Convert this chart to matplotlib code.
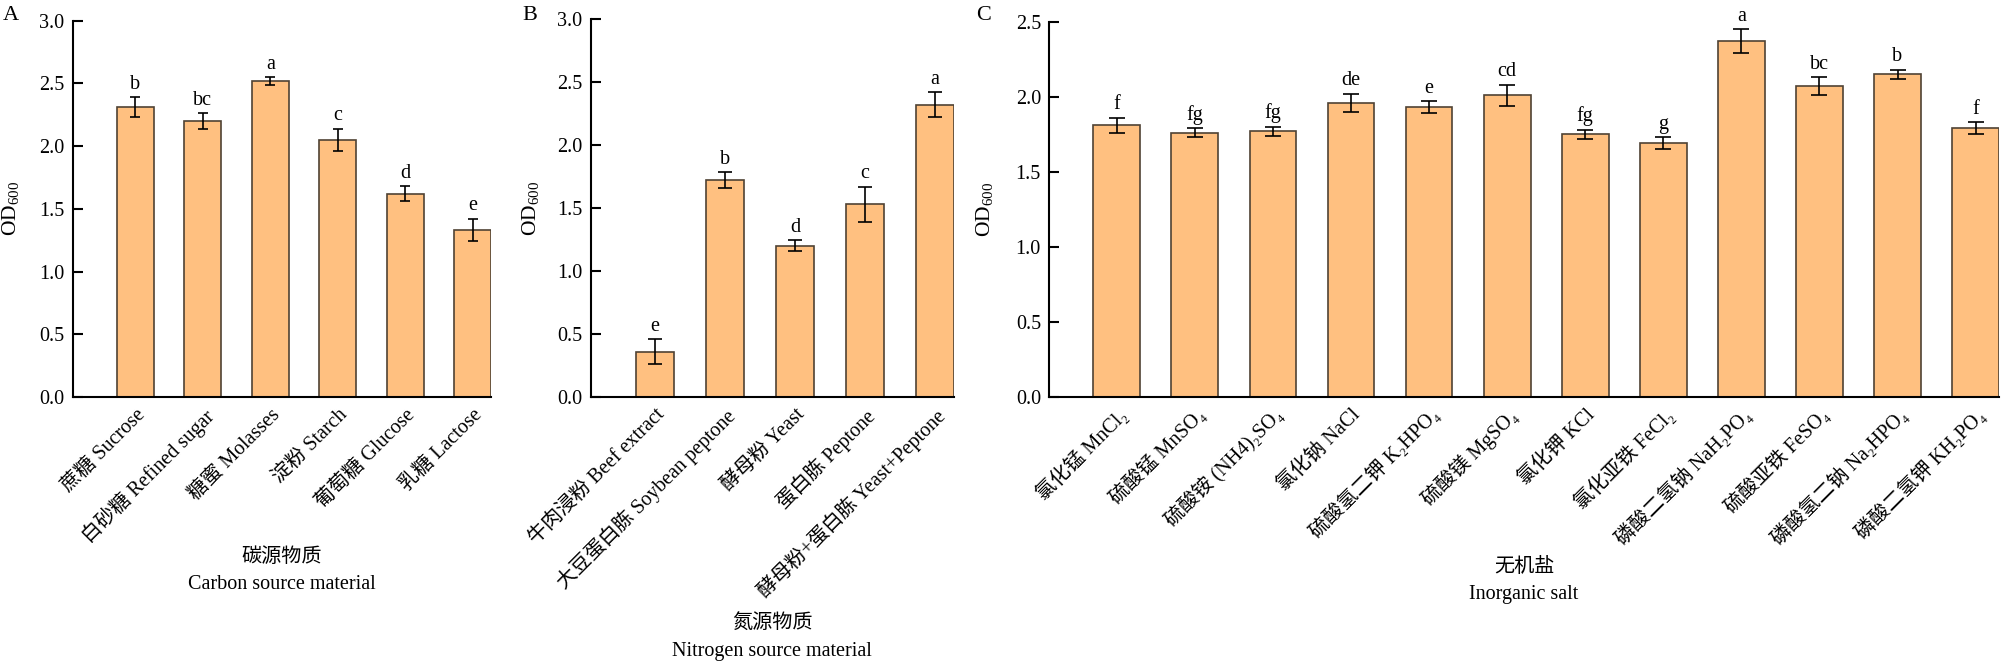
import matplotlib
matplotlib.use("Agg")
import matplotlib.pyplot as plt
from matplotlib.ticker import MultipleLocator, FormatStrFormatter

plt.rcParams['font.family'] = ['Liberation Serif', 'Noto Sans CJK SC', 'DejaVu Serif']
plt.rcParams['mathtext.fontset'] = 'custom'
plt.rcParams['mathtext.rm'] = 'Liberation Serif'

# A: carbon source
carbon_labels = ['蔗糖 Sucrose', '白砂糖 Refined sugar', '糖蜜 Molasses',
                 '淀粉 Starch', '葡萄糖 Glucose', '乳糖 Lactose']
carbon_mean = [2.31, 2.20, 2.52, 2.05, 1.62, 1.33]
carbon_err = [0.08, 0.06, 0.03, 0.09, 0.06, 0.09]
carbon_sig = ['b', 'bc', 'a', 'c', 'd', 'e']

# B: nitrogen source
nitrogen_labels = ['牛肉浸粉 Beef extract', '大豆蛋白胨 Soybean peptone', '酵母粉 Yeast',
                   '蛋白胨 Peptone', '酵母粉+蛋白胨 Yeast+Peptone']
nitrogen_mean = [0.36, 1.72, 1.20, 1.53, 2.32]
nitrogen_err = [0.10, 0.065, 0.045, 0.14, 0.10]
nitrogen_sig = ['e', 'b', 'd', 'c', 'a']

# C: inorganic salt
salt_labels = ['氯化锰 MnCl₂', '硫酸锰 MnSO₄', '硫酸铵 (NH4)₂SO₄', '氯化钠 NaCl',
               '硫酸氢二钾 K₂HPO₄', '硫酸镁 MgSO₄', '氯化钾 KCl', '氯化亚铁 FeCl₂',
               '磷酸二氢钠 NaH₂PO₄', '硫酸亚铁 FeSO₄', '磷酸氢二钠 Na₂HPO₄', '磷酸二氢钾 KH₂PO₄']
salt_mean = [1.81, 1.76, 1.77, 1.96, 1.93, 2.01, 1.75, 1.69, 2.37, 2.07, 2.15, 1.79]
salt_err = [0.05, 0.03, 0.03, 0.06, 0.04, 0.07, 0.03, 0.04, 0.08, 0.06, 0.03, 0.04]
salt_sig = ['f', 'fg', 'fg', 'de', 'e', 'cd', 'fg', 'g', 'a', 'bc', 'b', 'f']

BAR_COLOR = '#FFC080'
EDGE_COLOR = '#4f4234'

fig = plt.figure(figsize=(20.02, 6.66), dpi=100)


def draw_panel(rect, labels, means, errs, sigs, ymax, width, left_pad,
               capsize, xlabel, xlabel_y, ylabel_x, letter, letter_x):
    ax = fig.add_axes(rect)
    x = list(range(len(labels)))
    ax.bar(x, means, width=width, color=BAR_COLOR, edgecolor=EDGE_COLOR,
           linewidth=1.2, zorder=2)
    ax.errorbar(x, means, yerr=errs, fmt='none', ecolor='black', elinewidth=1.2,
                capsize=capsize, capthick=1.2, zorder=3)
    for xi, m, e, s in zip(x, means, errs, sigs):
        ax.annotate(s, xy=(xi, m + e), xytext=(0, 2.5), textcoords='offset points',
                    ha='center', va='bottom', fontsize=14.5)
    ax.set_xlim(-left_pad, len(labels) - 1 + width / 2)
    ax.set_ylim(0, ymax)
    ax.yaxis.set_major_locator(MultipleLocator(0.5))
    ax.yaxis.set_major_formatter(FormatStrFormatter('%.1f'))
    ax.set_xticks(x)
    ax.set_xticklabels(labels, rotation=45, ha='right', va='top',
                       rotation_mode='anchor', fontsize=14.5)
    ax.tick_params(axis='x', length=0, pad=6)
    ax.tick_params(axis='y', direction='in', length=7, width=1.5,
                   labelsize=14.5, pad=6)
    for side in ('top', 'right'):
        ax.spines[side].set_visible(False)
    for side in ('left', 'bottom'):
        ax.spines[side].set_linewidth(1.5)
    ax.set_ylabel('OD$_{\\mathrm{600}}$', fontsize=15.5)
    ax.yaxis.set_label_coords(ylabel_x, 0.5)
    ax.set_xlabel(xlabel, fontsize=14.5, linespacing=1.6)
    ax.xaxis.set_label_coords(0.5, xlabel_y)
    fig.text(letter_x, 0.977, letter, fontsize=16, va='center', ha='left')
    return ax


draw_panel([0.0363, 0.4039, 0.2090, 0.5651], carbon_labels, carbon_mean,
           carbon_err, carbon_sig, 3.0, 0.55, 0.93, 3.6,
           '碳源物质\nCarbon source material', -0.40, -0.12, 'A', 0.0015)

draw_panel([0.2951, 0.4039, 0.1814, 0.5676], nitrogen_labels, nitrogen_mean,
           nitrogen_err, nitrogen_sig, 3.0, 0.55, 0.92, 4.7,
           '氮源物质\nNitrogen source material', -0.575, -0.135, 'B', 0.2607)

draw_panel([0.5241, 0.4044, 0.4744, 0.5630], salt_labels, salt_mean,
           salt_err, salt_sig, 2.5, 0.6, 0.865, 6.0,
           '无机盐\nInorganic salt', -0.43, -0.056, 'C', 0.4875)

fig.savefig('out.png', dpi=100)
